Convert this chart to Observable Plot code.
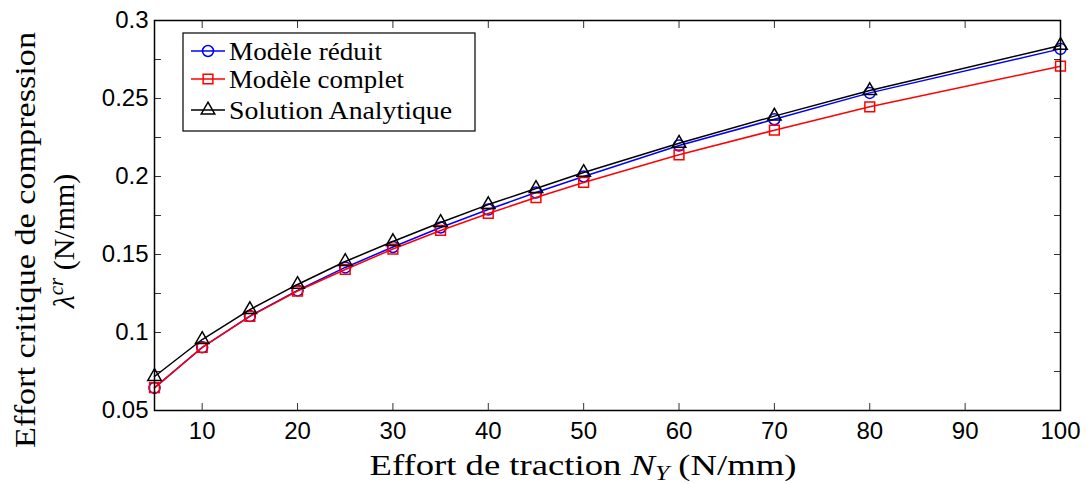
<!DOCTYPE html>
<html><head><meta charset="utf-8">
<script src="https://cdn.jsdelivr.net/npm/d3@7"></script>
<script src="https://cdn.jsdelivr.net/npm/@observablehq/plot@0.6"></script>
<style>body{margin:0;background:#fff}</style>
</head><body><div id="chart"></div>
<script>
const effortTraction = [5, 10, 15, 20, 25, 30, 35, 40, 45, 50, 60, 70, 80, 100];
const modeleReduit = [0.0645, 0.0905, 0.1105, 0.127, 0.1417, 0.1548, 0.1673, 0.1788, 0.1897, 0.2, 0.2199, 0.2367, 0.2536, 0.2818];
const modeleComplet = [0.0647, 0.0904, 0.1103, 0.1266, 0.1404, 0.1535, 0.1654, 0.1763, 0.1865, 0.1962, 0.2139, 0.2297, 0.2447, 0.2707];
const solutionAnalytique = [0.0718, 0.0955, 0.1147, 0.1308, 0.1455, 0.1583, 0.1705, 0.182, 0.1923, 0.2026, 0.2213, 0.2387, 0.2551, 0.284];
const seriesNames = ["Modèle réduit", "Modèle complet", "Solution Analytique"];
const seriesColors = ["#0000ff", "#ff0000", "#000000"];
const seriesSymbols = ["circle", "square", "triangle"];
const seriesRadius = [5.5, 5.5, 5];
const xTicks = [10, 20, 30, 40, 50, 60, 70, 80, 90, 100];
const yTicksMajor = [0.05, 0.1, 0.15, 0.2, 0.25, 0.3];
const yTicksMinor = [0.05, 0.075, 0.1, 0.125, 0.15, 0.175, 0.2, 0.225, 0.25, 0.275, 0.3];

const seriesValues = [modeleReduit, modeleComplet, solutionAnalytique];
const rows = seriesNames.flatMap((name, s) =>
  effortTraction.map((x, i) => ({series: name, x, y: seriesValues[s][i]})));

const serif = "Liberation Serif";
const sans = "'Liberation Sans', Arial, sans-serif";
const TK = -7;

const marks = [];
seriesNames.forEach((name, s) => {
  const d = rows.filter(r => r.series === name);
  marks.push(Plot.line(d, {x: "x", y: "y", stroke: seriesColors[s], strokeWidth: 1.5}));
  marks.push(Plot.dot(d, {x: "x", y: "y", stroke: seriesColors[s], fill: "none", symbol: seriesSymbols[s], r: seriesRadius[s], strokeWidth: 1.5}));
});

const chart = Plot.plot({
  width: 1087, height: 484,
  marginLeft: 154, marginRight: 27, marginTop: 20, marginBottom: 74,
  x: {domain: [5, 100]},
  y: {domain: [0.05, 0.3]},
  style: {background: "white", fontFamily: sans, fontSize: "24px", color: "black", overflow: "visible"},
  marks: [
    Plot.axisX({ticks: xTicks, anchor: "bottom", tickSize: TK, tickPadding: 18, label: null, fontSize: 24, stroke: "#333"}),
    Plot.axisX({ticks: xTicks, anchor: "top", tickSize: TK, tickFormat: () => "", label: null, stroke: "#333"}),
    Plot.axisY({ticks: yTicksMinor, anchor: "left", tickSize: TK, tickFormat: () => "", label: null, stroke: "#333"}),
    Plot.axisY({ticks: yTicksMajor, anchor: "left", tickSize: 0, tickPadding: 6, tickFormat: d => String(d), label: null, fontSize: 24}),
    Plot.axisY({ticks: yTicksMinor, anchor: "right", tickSize: TK, tickFormat: () => "", label: null, stroke: "#333"}),
    ...marks,
    Plot.frame({stroke: "black", strokeWidth: 1.5})
  ]
});

const svg = d3.select(chart);

// X axis label
const xl = svg.append("text").attr("x", 583).attr("y", 475).attr("text-anchor", "middle")
  .style("font-family", serif).attr("font-size", 30).attr("fill", "black")
  .attr("textLength", 427).attr("lengthAdjust", "spacingAndGlyphs");
xl.append("tspan").text("Effort de traction ");
xl.append("tspan").attr("font-style", "italic").text("N");
xl.append("tspan").attr("font-style", "italic").attr("font-size", 21).attr("dy", 5).text("Y");
xl.append("tspan").attr("dy", -5).text(" (N/mm)");

// Y axis label (two lines)
svg.append("text").attr("transform", "translate(35,240) rotate(-90)").attr("text-anchor", "middle")
  .style("font-family", serif).attr("font-size", 30).attr("fill", "black")
  .attr("textLength", 416).attr("lengthAdjust", "spacingAndGlyphs")
  .text("Effort critique de compression");
const yl2 = svg.append("text").attr("transform", "translate(74,241) rotate(-90)").attr("text-anchor", "middle")
  .style("font-family", serif).attr("font-size", 30).attr("fill", "black");
yl2.append("tspan").attr("font-style", "italic").text("λ");
yl2.append("tspan").attr("font-style", "italic").attr("font-size", 21).attr("dy", -11).text("cr");
yl2.append("tspan").attr("dy", 11).text(" (N/mm)");

// Legend
const legendWidths = [153, 175, 223];
const lg = svg.append("g");
lg.append("rect").attr("x", 183).attr("y", 33).attr("width", 292).attr("height", 98)
  .attr("fill", "white").attr("stroke", "black").attr("stroke-width", 1.2);
const rowY = [51, 79, 110];
seriesNames.forEach((name, s) => {
  lg.append("line").attr("x1", 191).attr("x2", 225).attr("y1", rowY[s]).attr("y2", rowY[s])
    .attr("stroke", seriesColors[s]).attr("stroke-width", 1.5);
  const sym = {circle: d3.symbolCircle, square: d3.symbolSquare, triangle: d3.symbolTriangle}[seriesSymbols[s]];
  lg.append("path").attr("d", d3.symbol(sym, Math.PI * seriesRadius[s] ** 2)())
    .attr("transform", `translate(208,${rowY[s]})`)
    .attr("fill", "none").attr("stroke", seriesColors[s]).attr("stroke-width", 1.5);
  lg.append("text").attr("x", 229).attr("y", rowY[s] + 9).attr("text-anchor", "start")
    .style("font-family", serif).attr("font-size", 26).attr("fill", "black")
    .attr("textLength", legendWidths[s]).attr("lengthAdjust", "spacingAndGlyphs")
    .text(name);
});

document.getElementById("chart").appendChild(chart);
</script>
</body></html>
